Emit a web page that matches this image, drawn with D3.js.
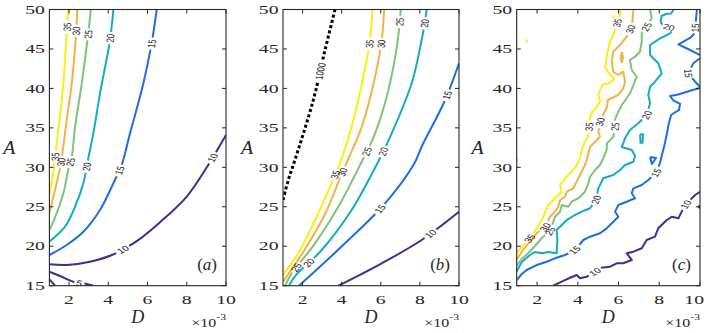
<!DOCTYPE html>
<html>
<head>
<meta charset="utf-8">
<script src="https://cdn.jsdelivr.net/npm/d3@7"></script>
<style>
  html, body { margin: 0; padding: 0; background: #fff; }
  svg { display: block; }
</style>
</head>
<body>
<script>
// Axis ticks (D is given in units of 1e-3)
const dTicks = [2, 4, 6, 8, 10];
const aTicks = [15, 20, 25, 30, 35, 40, 45, 50];

// Contour level -> colour
const levels = [5, 10, 15, 20, 25, 30, 35, 1000];
const levelColors = ['#3a2f93', '#3a2f93', '#1c6fdd', '#14abc7', '#7dc37c', '#f4b146', '#f6f112', '#000000'];

// ---- panel (a): contours as [D, A] ----
const a5 = [[1, 16.77], [1.54, 16.23], [2.22, 15.51], [2.9, 15.22], [3.24, 15]];
const a5b = [[1, 15.81], [1.29, 15]];
const a10 = [[10, 34.1], [9.02, 30.0], [8.0, 26.3], [6.64, 23.05], [5.45, 20.65], [4.18, 18.89], [3.07, 18.04], [1.88, 17.62], [1, 17.71]];
const a15 = [[6.47, 50], [6.21, 45.72], [5.79, 40.65], [5.11, 34.31], [4.68, 30.29], [4.26, 27.98], [3.58, 24.6], [2.73, 21.84], [1.88, 20.16], [1, 18.89]];
const a20 = [[4.26, 50], [4.09, 46.13], [3.58, 39.38], [3.24, 34.31], [2.98, 31.14], [2.73, 27.98], [2.31, 25.01], [1.8, 22.48], [1.2, 21.01], [1, 20.58]];
const a25 = [[3.11, 50], [2.98, 46.98], [2.65, 40.65], [2.31, 35.15], [2.14, 31.35], [1.96, 29.66], [1.71, 26.71], [1.2, 23.11], [1, 22.06]];
const a30 = [[2.42, 50], [2.36, 46.98], [2.14, 40.65], [1.88, 36.0], [1.71, 32.61], [1.54, 29.88], [1.12, 25.44], [1, 24.21]];
const a35 = [[1.96, 50], [1.88, 46.98], [1.71, 40.65], [1.54, 36.42], [1.37, 33.04], [1.25, 30.29], [1, 26.49]];
// label anchors
const a5Labels = [[2.52, 15.38]];
const a10Labels = [[9.35, 31.14], [4.68, 19.87]];
const a15Labels = [[6.16, 45.72], [4.51, 29.66]];
const a20Labels = [[4.14, 46.35], [2.93, 30.08]];
const a25Labels = [[2.98, 46.86], [2.05, 30.71]];
const a30Labels = [[2.36, 47.31], [1.54, 30.71]];
const a35Labels = [[1.88, 47.82], [1.29, 31.35]];

// ---- panel (b) ----
const b1000 = [[3.66, 50], [3.15, 44.87], [2.55, 38.53], [1.61, 30.93], [1.27, 28.39], [1, 25.86]];
const b10 = [[10, 24.38], [8.09, 20.79], [6.05, 17.84], [3.83, 15]];
const b15 = [[10, 43.18], [9.29, 38.53], [8.09, 32.61], [7.7, 30.42], [6.22, 25.44], [4.17, 20.37], [1.82, 15]];
const b20 = [[8.35, 50], [8.09, 46.13], [7.58, 40.65], [6.56, 34.31], [5.78, 30.29], [4.51, 24.59], [2.98, 19.52], [1.67, 16.36], [1.31, 15]];
const b25 = [[7.02, 50], [6.87, 46.13], [6.39, 39.8], [5.71, 34.31], [4.94, 30.29], [3.83, 25.01], [2.64, 20.37], [1.45, 16.57], [1.1, 15]];
const b30 = [[6.17, 50], [6.05, 46.13], [5.71, 41.48], [5.03, 35.15], [4.38, 31.31], [3.92, 28.65], [3.15, 24.09], [2.13, 19.65], [1, 15.51]];
const b35 = [[5.57, 50], [5.45, 46.13], [5.11, 41.48], [4.51, 35.15], [3.97, 30.93], [3.56, 28.39], [2.64, 23.33], [1.78, 19.11], [1, 16.36]];
const b1000Labels = [[2.98, 42.12]];
const b10Labels = [[8.6, 21.42]];
const b15Labels = [[9.4, 39.17], [6.0, 24.59]];
const b20Labels = [[8.18, 48.25], [6.1, 31.98], [2.33, 17.91]];
const b25Labels = [[6.85, 48.45], [5.11, 32.2], [1.67, 17.33]];
const b30Labels = [[5.84, 45.72], [4.0, 29.45]];
const b35Labels = [[5.25, 45.72], [3.54, 29.24]];

// ---- panel (c): simulated, jagged contours ----
const c10 = [[10, 26.91], [9.76, 26.49], [9.31, 25.31], [9.10, 24.38], [8.94, 23.54], [8.61, 23.74], [8.37, 23.33], [7.95, 22.27], [7.79, 21.21], [7.38, 20.79], [7.14, 19.74], [6.73, 19.31], [6.40, 19.11], [6.65, 18.26], [6.23, 17.84], [5.91, 17.84], [5.58, 17.41], [5.17, 17.28], [4.85, 16.77], [4.44, 16.14], [4.11, 15.94], [3.95, 16.36], [3.62, 16.01], [3.21, 15.51], [2.80, 15.0]];
const c10b = [[10, 25.2], [9.94, 25.0], [10, 24.8]];
const c15 = [[9.85, 50], [9.80, 48.67], [9.76, 47.66], [9.76, 47.02], [9.51, 46.39], [8.94, 45.59], [9.51, 44.87], [10, 44.23]];
const c15b = [[10, 43.82], [9.67, 43.18], [9.43, 41.92], [9.76, 40.85], [10, 40.22]];
const c15c = [[10, 40.05], [9.56, 39.74], [8.93, 39.23], [8.53, 39.04], [8.67, 38.53], [9.02, 38.03], [8.97, 37.27], [8.58, 36.63], [8.45, 35.37], [8.38, 34.35], [8.28, 33.08], [8.13, 31.56], [8.04, 30.55], [7.84, 29.28], [7.46, 28.39], [7.14, 27.76], [6.73, 27.34], [6.65, 26.71], [6.81, 26.08], [6.40, 25.64], [5.99, 25.23], [5.83, 24.38], [5.99, 23.74], [5.67, 22.91], [5.42, 22.27], [5.09, 21.64], [4.60, 21.21], [4.27, 20.79], [3.86, 19.52], [3.37, 18.89], [2.88, 18.47], [2.47, 18.04], [1.98, 17.62], [1.49, 16.99], [1.25, 16.48], [1.0, 15.72]];
const c15d = [[7.55, 31.3], [7.84, 31.18], [7.64, 30.42], [7.55, 31.3]];
const c20 = [[8.72, 50], [8.58, 49.49], [8.33, 49.43], [8.11, 49.18], [8.07, 48.42], [8.23, 47.78], [8.48, 47.78], [8.69, 47.53], [8.53, 46.98], [8.04, 46.35], [7.55, 45.50], [7.55, 44.23], [7.95, 43.18], [8.12, 41.92], [7.79, 40.85], [7.55, 40.22], [7.46, 39.17], [7.55, 38.11], [7.38, 36.63], [6.97, 35.58], [6.56, 34.73], [6.32, 33.68], [6.16, 32.58], [6.65, 32.20], [6.81, 31.44], [6.73, 30.71], [6.32, 30.29], [6.07, 29.66], [5.74, 29.03], [5.25, 28.61], [5.01, 27.34], [4.89, 25.86], [4.60, 24.81], [4.19, 24.38], [3.86, 23.96], [3.46, 23.33], [3.21, 22.69], [2.96, 22.06], [3.00, 20.79], [2.96, 19.11], [2.55, 19.27], [2.23, 19.11], [1.90, 19.27], [1.65, 18.89], [1.25, 18.0], [1.0, 16.80]];
const c20b = [[7.06, 34.2], [7.08, 33.1], [7.18, 33.1], [7.2, 34.2], [7.06, 34.2]];
const c25 = [[7.55, 50], [7.63, 48.88], [7.38, 47.82], [7.14, 46.98], [7.14, 45.92], [7.05, 44.65], [6.81, 44.02], [6.56, 43.60], [6.65, 42.33], [6.89, 41.48], [6.73, 40.43], [6.56, 39.38], [6.40, 38.75], [6.16, 37.90], [5.99, 37.05], [5.83, 36.12], [5.83, 35.15], [5.74, 33.88], [5.43, 33.04], [5.42, 32.20], [5.25, 31.18], [5.09, 30.29], [4.85, 29.66], [4.60, 28.81], [4.52, 27.98], [4.35, 26.91], [4.03, 26.08], [3.70, 25.64], [3.53, 25.01], [3.21, 25.23], [3.13, 24.38], [2.88, 23.74], [2.64, 21.93], [2.23, 21.04], [1.90, 20.03], [1.57, 19.14], [1.25, 18.38], [1.0, 17.56]];
const c30 = [[6.73, 50], [6.68, 48.45], [6.59, 47.53], [6.40, 46.55], [6.07, 45.50], [5.74, 44.65], [5.67, 43.39], [5.74, 42.12], [5.99, 41.70], [6.23, 42.12], [6.32, 40.85], [6.23, 40.01], [5.99, 39.17], [5.48, 38.53], [5.43, 37.64], [5.24, 36.62], [5.09, 35.78], [5.01, 34.51], [5.09, 33.88], [4.85, 33.25], [4.60, 32.61], [4.44, 30.93], [4.35, 30.29], [4.19, 29.45], [4.03, 28.61], [3.78, 27.34], [3.46, 26.91], [3.37, 26.28], [3.13, 25.86], [3.04, 25.01], [2.88, 24.38], [2.64, 23.74], [2.39, 22.4], [1.98, 21.64], [1.57, 20.37], [1.25, 19.31], [1.0, 18.32]];
const c30b = [[6.16, 44.6], [6.10, 43.9], [6.16, 43.3], [6.22, 43.9], [6.16, 44.6]];
const c35 = [[6.12, 50], [6.02, 48.92], [5.78, 47.02], [5.58, 45.88], [5.43, 44.23], [5.34, 42.71], [5.48, 42.08], [5.78, 41.19], [5.58, 40.69], [5.19, 40.43], [5.01, 39.17], [5.09, 38.32], [4.93, 37.68], [4.70, 37.01], [4.60, 36.21], [4.52, 34.10], [4.35, 33.25], [4.19, 32.20], [4.11, 31.18], [3.95, 30.29], [3.70, 29.45], [3.37, 28.61], [3.13, 27.76], [3.21, 26.91], [2.96, 26.28], [2.55, 25.23], [2.31, 23.74], [2.14, 22.91], [1.65, 21.0], [1.25, 19.94], [1.0, 19.14]];
const c35b = [[5.74, 49.15], [5.77, 48.95]];
const c35c = [[1.47, 46.1], [1.51, 45.9]];
const c35d = [[1.0, 31.15], [1.03, 30.9]];
const c10Labels = [[9.31, 25.31], [4.85, 16.77]];
const c15Labels = [[9.76, 47.66]];
const c15bLabels = [[9.43, 41.92]];
const c15cLabels = [[7.84, 29.28], [3.86, 19.52]];
const c20Labels = [[8.48, 47.78], [7.38, 36.63], [4.89, 25.86]];
const c25Labels = [[7.38, 47.82], [5.83, 35.15], [2.64, 21.93]];
const c30Labels = [[6.59, 47.53], [5.09, 35.78], [2.39, 22.4]];
const c35Labels = [[5.97, 48.29], [4.55, 35.15], [1.65, 21.0]];

// ---------------------------------------------------------------
const W = 706, H = 333;
const Y0 = 9.5, Y1 = 285.7;      // plot area top / bottom
const TICK_SX = 1.6;              // the figure's tick text is horizontally stretched
const LBL_SX = 1.4;
const LBL_FS = 7.6;
const axisColor = '#262626';
const serif = "'Liberation Serif', 'Times New Roman', serif";
const sans = "'Liberation Sans', Arial, sans-serif";

const colorOf = lv => levelColors[levels.indexOf(lv)];

const panels = [
  { name: 'a', x0: 49.4, x1: 226, ax: 9.2, smooth: true, lines: [
    { level: 5, pts: a5, labels: a5Labels },
    { level: 5, pts: a5b, labels: [] },
    { level: 10, pts: a10, labels: a10Labels },
    { level: 15, pts: a15, labels: a15Labels },
    { level: 20, pts: a20, labels: a20Labels },
    { level: 25, pts: a25, labels: a25Labels },
    { level: 30, pts: a30, labels: a30Labels },
    { level: 35, pts: a35, labels: a35Labels }
  ]},
  { name: 'b', x0: 283, x1: 459, ax: 247, smooth: true, lines: [
    { level: 10, pts: b10, labels: b10Labels },
    { level: 15, pts: b15, labels: b15Labels },
    { level: 20, pts: b20, labels: b20Labels },
    { level: 25, pts: b25, labels: b25Labels },
    { level: 30, pts: b30, labels: b30Labels },
    { level: 35, pts: b35, labels: b35Labels },
    { level: 1000, pts: b1000, labels: b1000Labels, dotted: true }
  ]},
  { name: 'c', x0: 516.7, x1: 700, ax: 477.5, smooth: false, lines: [
    { level: 10, pts: c10, labels: c10Labels },
    { level: 10, pts: c10b, labels: [] },
    { level: 15, pts: c15, labels: c15Labels },
    { level: 15, pts: c15b, labels: c15bLabels },
    { level: 15, pts: c15c, labels: c15cLabels },
    { level: 15, pts: c15d, labels: [] },
    { level: 20, pts: c20, labels: c20Labels },
    { level: 20, pts: c20b, labels: [] },
    { level: 25, pts: c25, labels: c25Labels },
    { level: 30, pts: c30, labels: c30Labels },
    { level: 30, pts: c30b, labels: [] },
    { level: 35, pts: c35, labels: c35Labels },
    { level: 35, pts: c35b, labels: [], blob: true },
    { level: 35, pts: c35c, labels: [], blob: true },
    { level: 35, pts: c35d, labels: [], blob: true }
  ]}
];

const svg = d3.select('body').append('svg')
  .attr('width', W)
  .attr('height', H)
  .attr('viewBox', [0, 0, W, H]);

svg.append('rect').attr('width', W).attr('height', H).attr('fill', '#fff');

// Build a dash array that leaves gaps where the labels sit
function dashFor(L, gaps, pattern) {
  const on = [];
  if (!pattern) {
    let cur = 0;
    gaps.forEach(([a, b]) => {
      if (a > cur) on.push([cur, a]);
      cur = Math.max(cur, b);
    });
    if (cur < L) on.push([cur, L]);
  } else {
    for (let s = 0; s < L; s += pattern[0] + pattern[1]) {
      const e = Math.min(L, s + pattern[0]);
      if (!gaps.some(([a, b]) => e > a && s < b)) on.push([s, e]);
    }
  }
  const arr = [0];
  let prev = 0;
  on.forEach(([a, b]) => { arr.push(a - prev, b - a); prev = b; });
  arr.push(L - prev + 10);
  return arr.map(v => v.toFixed(2)).join(' ');
}

function stretchedText(parent, x, y, str, size, sx, anchor, family, italic) {
  return parent.append('text')
    .attr('transform', `translate(${x},${y}) scale(${sx},1)`)
    .attr('text-anchor', anchor)
    .attr('font-family', family)
    .attr('font-size', size)
    .attr('font-style', italic ? 'italic' : 'normal')
    .attr('fill', axisColor)
    .text(str);
}

panels.forEach(p => {
  const x = d3.scaleLinear().domain([1, 10]).range([p.x0, p.x1]);
  const y = d3.scaleLinear().domain([15, 50]).range([Y1, Y0]);

  const clipId = 'clip-' + p.name;
  svg.append('clipPath').attr('id', clipId)
    .append('rect')
    .attr('x', p.x0).attr('y', Y0)
    .attr('width', p.x1 - p.x0).attr('height', Y1 - Y0);

  const lineLayer = svg.append('g').attr('clip-path', `url(#${clipId})`);
  const labelLayer = svg.append('g');

  const lineGen = d3.line()
    .x(d => x(d[0]))
    .y(d => y(d[1]))
    .curve(p.smooth ? d3.curveCatmullRom.alpha(0.5) : d3.curveLinear);

  p.lines.forEach(c => {
    const path = lineLayer.append('path')
      .datum(c.pts)
      .attr('d', lineGen)
      .attr('fill', 'none')
      .attr('stroke', colorOf(c.level))
      .attr('stroke-width', c.dotted ? 3 : 2)
      .attr('stroke-linejoin', 'round')
      .attr('stroke-linecap', c.blob ? 'round' : 'butt');

    const node = path.node();
    const L = node.getTotalLength();
    const gaps = [];

    c.labels.forEach(lp => {
      const tx = x(lp[0]), ty = y(lp[1]);
      // snap the label to the nearest point of the contour
      let best = 0, bd = Infinity;
      for (let s = 0; s <= L; s += 0.5) {
        const q = node.getPointAtLength(s);
        const dd = (q.x - tx) ** 2 + (q.y - ty) ** 2;
        if (dd < bd) { bd = dd; best = s; }
      }
      const p0 = node.getPointAtLength(Math.max(0, best - 3));
      const p1 = node.getPointAtLength(Math.min(L, best + 3));
      const c0 = node.getPointAtLength(best);
      let ang = Math.atan2(p1.y - p0.y, (p1.x - p0.x) / LBL_SX) * 180 / Math.PI;
      if (ang > 90) ang -= 180;
      if (ang <= -90) ang += 180;

      const txt = String(c.level);
      const tl = txt.length * 0.556 * LBL_FS;
      const rad = ang * Math.PI / 180;
      const half = tl * Math.hypot(Math.cos(rad) * LBL_SX, Math.sin(rad)) / 2 + 2;
      gaps.push([best - half, best + half]);

      labelLayer.append('text')
        .attr('transform', `translate(${c0.x},${c0.y}) scale(${LBL_SX},1) rotate(${ang})`)
        .attr('text-anchor', 'middle')
        .attr('dy', '0.36em')
        .attr('font-family', sans)
        .attr('font-size', LBL_FS)
        .attr('fill', '#1a1a1a')
        .text(txt);
    });

    if (!c.blob && (gaps.length || c.dotted)) {
      gaps.sort((a, b) => a[0] - b[0]);
      path.attr('stroke-dasharray', dashFor(L, gaps, c.dotted ? [3, 2.4] : null));
    }
  });

  // axes: box, inward ticks on all four sides
  const axes = svg.append('g')
    .attr('stroke', axisColor)
    .attr('stroke-width', 1)
    .attr('fill', 'none');

  dTicks.forEach(t => {
    axes.append('line').attr('x1', x(t)).attr('x2', x(t)).attr('y1', Y1).attr('y2', Y1 - 4);
    axes.append('line').attr('x1', x(t)).attr('x2', x(t)).attr('y1', Y0).attr('y2', Y0 + 4);
  });
  aTicks.forEach(t => {
    axes.append('line').attr('x1', p.x0).attr('x2', p.x0 + 4).attr('y1', y(t)).attr('y2', y(t));
    axes.append('line').attr('x1', p.x1).attr('x2', p.x1 - 4).attr('y1', y(t)).attr('y2', y(t));
  });
  axes.append('rect')
    .attr('x', p.x0).attr('y', Y0)
    .attr('width', p.x1 - p.x0).attr('height', Y1 - Y0)
    .attr('stroke-width', 1.1);

  // tick labels
  const txtLayer = svg.append('g');
  dTicks.forEach(t => {
    const el = stretchedText(txtLayer, x(t), 304, String(t), 12.3, TICK_SX, 'middle', serif);
    const w = el.node().getComputedTextLength() * TICK_SX;
    if (x(t) + w / 2 > 704) el.attr('transform', `translate(${704 - w / 2},304) scale(${TICK_SX},1)`);
  });
  aTicks.forEach(t => {
    stretchedText(txtLayer, p.x0 - 4.5, y(t) + 4.2, String(t), 12.3, TICK_SX, 'end', serif);
  });

  // axis titles
  stretchedText(txtLayer, p.ax, 154, 'A', 18, 1.1, 'middle', serif, true);
  stretchedText(txtLayer, (p.x0 + p.x1) / 2, 323.3, 'D', 18, 1, 'middle', serif, true);

  // x10^-3 multiplier
  const mult = txtLayer.append('text')
    .attr('transform', `translate(${p.x1},326.7) scale(1.3,1)`)
    .attr('text-anchor', 'end')
    .attr('font-family', serif)
    .attr('font-size', 12.3)
    .attr('fill', axisColor);
  mult.append('tspan').text('\u00d710');
  mult.append('tspan').attr('font-size', 9).attr('dy', -6.7).text('-3');

  // panel tag (a), (b), (c)
  const tag = txtLayer.append('text')
    .attr('x', p.x1 - 9)
    .attr('y', 270)
    .attr('text-anchor', 'end')
    .attr('font-family', serif)
    .attr('font-size', 17)
    .attr('fill', axisColor);
  tag.append('tspan').text('(');
  tag.append('tspan').attr('font-style', 'italic').text(p.name);
  tag.append('tspan').text(')');
});
</script>
</body>
</html>
